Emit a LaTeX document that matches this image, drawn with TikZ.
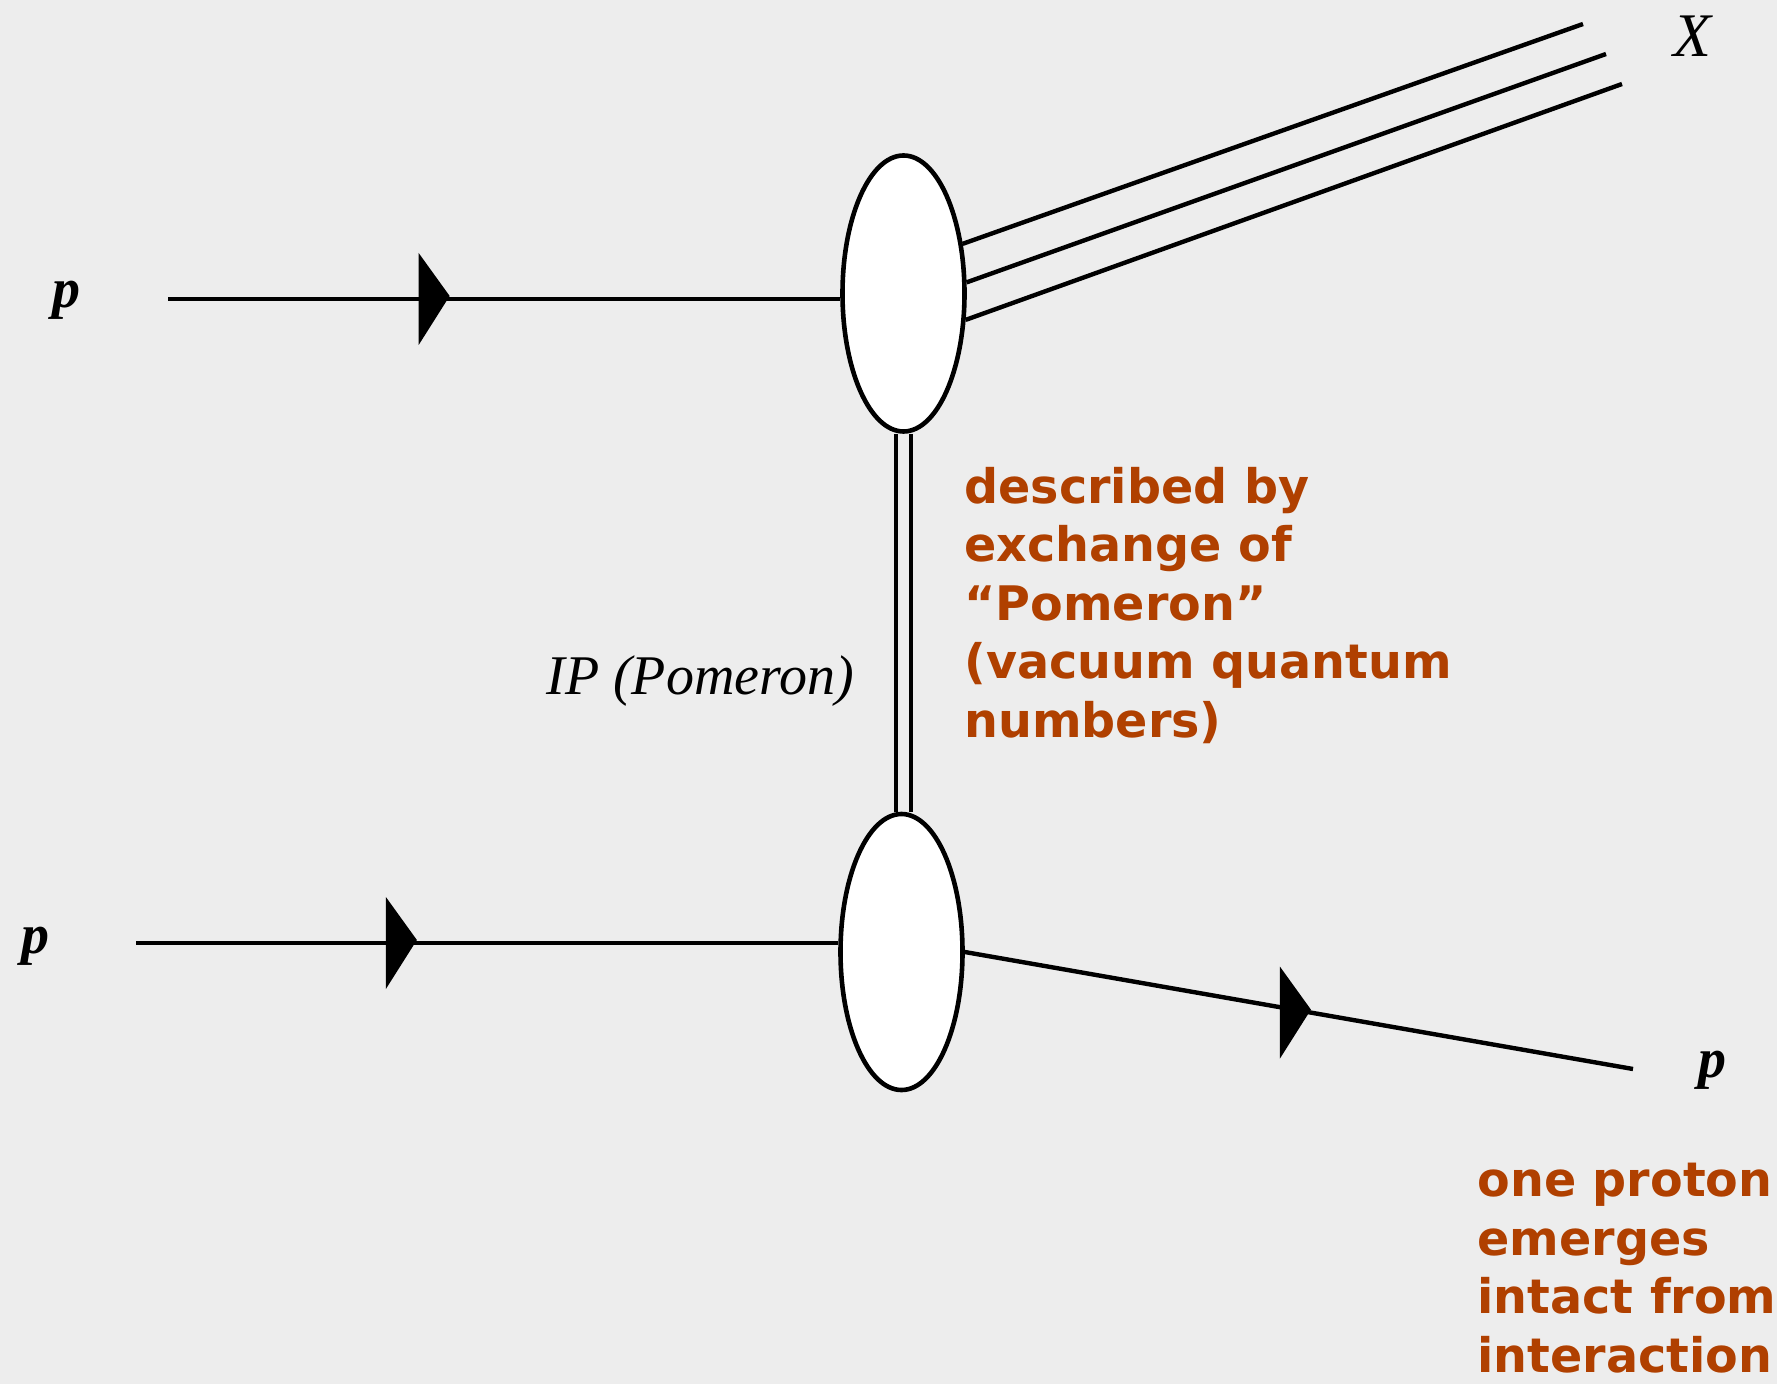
\documentclass[tikz,border=0pt]{standalone}
\usepackage{fontspec}
\setmainfont{Liberation Serif}
\newfontfamily\notefont{DejaVu Sans}
\usetikzlibrary{shapes.geometric,decorations.markings}
\definecolor{bgpaper}{RGB}{237,237,237}
\definecolor{notebrown}{RGB}{176,64,0}

\begin{document}
\begin{tikzpicture}[x=0.5pt,y=-0.5pt,
  blob/.style={ellipse, draw, line width=2.3pt, fill=white,
    minimum width=61pt, minimum height=138pt, inner sep=0pt},
  leg/.style={line width=2.2pt},
  flowtri/.style={postaction={decorate}, decoration={markings,
    mark=at position #1 with {\pgftransformresetnontranslations
      \fill (-31,-46) -- (0,-3) -- (-31,46) -- cycle;}}},
  plabel/.style={font=\fontsize{28}{32}\selectfont\bfseries\itshape,
    inner sep=0pt, anchor=base west},
  note/.style={font=\fontsize{23.8}{29.2}\selectfont\notefont\bfseries,
    text=notebrown, align=left, inner sep=0pt, anchor=north west}]

% paper
\fill[bgpaper] (0,0) rectangle (1777,1384);
\useasboundingbox (0,0) rectangle (1777,1384);

% interaction blobs
\node[blob] (top) at (903.5,293.5) {};
\node[blob] (bot) at (901.5,952) {};

% pomeron exchange (double line)
\draw[line width=2pt] ([xshift=-3.75pt]top.south) -- ([xshift=-3.75pt]top.south |- bot.north);
\draw[line width=2pt] ([xshift=3.75pt]top.south) -- ([xshift=3.75pt]top.south |- bot.north);

% incoming protons
\coordinate (inA) at (168,299);
\coordinate (inB) at (136,943);
\draw[leg, flowtri=0.419] (inA) -- (inA -| top.west);
\draw[leg, flowtri=0.40] (inB) -- (inB -| bot.west);

% outgoing intact proton
\coordinate (outP) at (1633,1069);
\draw[leg, flowtri=0.518] (bot.east) -- (outP);

% dissociated system X
\coordinate (xA) at (1583,24);
\coordinate (xB) at (1606,54);
\coordinate (xC) at (1622,84);
\draw[leg] (top.40) -- (xA);
\draw[leg] (top.10) -- (xB);
\draw[leg] (top.-23) -- (xC);

% labels
\node[plabel] (pA) at (52,308) {p};
\node[plabel] (pB) at (21,953) {p};
\node[plabel] (pC) at (1698,1077) {p};
\node[font=\fontsize{31}{34}\selectfont\itshape, inner sep=0pt, anchor=base west] (xlab) at (1673,57) {X};
\node[font=\fontsize{28}{32}\selectfont\itshape, inner sep=0pt, anchor=base west] (pomlab) at (546,695) {IP (Pomeron)};

\node[note] (desc) at (964,467) {described by\\exchange of\\“Pomeron”\\(vacuum quantum\\numbers)};
\node[note] (intact) at (1477,1163) {one proton\\emerges\\intact from\\interaction};
\end{tikzpicture}
\end{document}
